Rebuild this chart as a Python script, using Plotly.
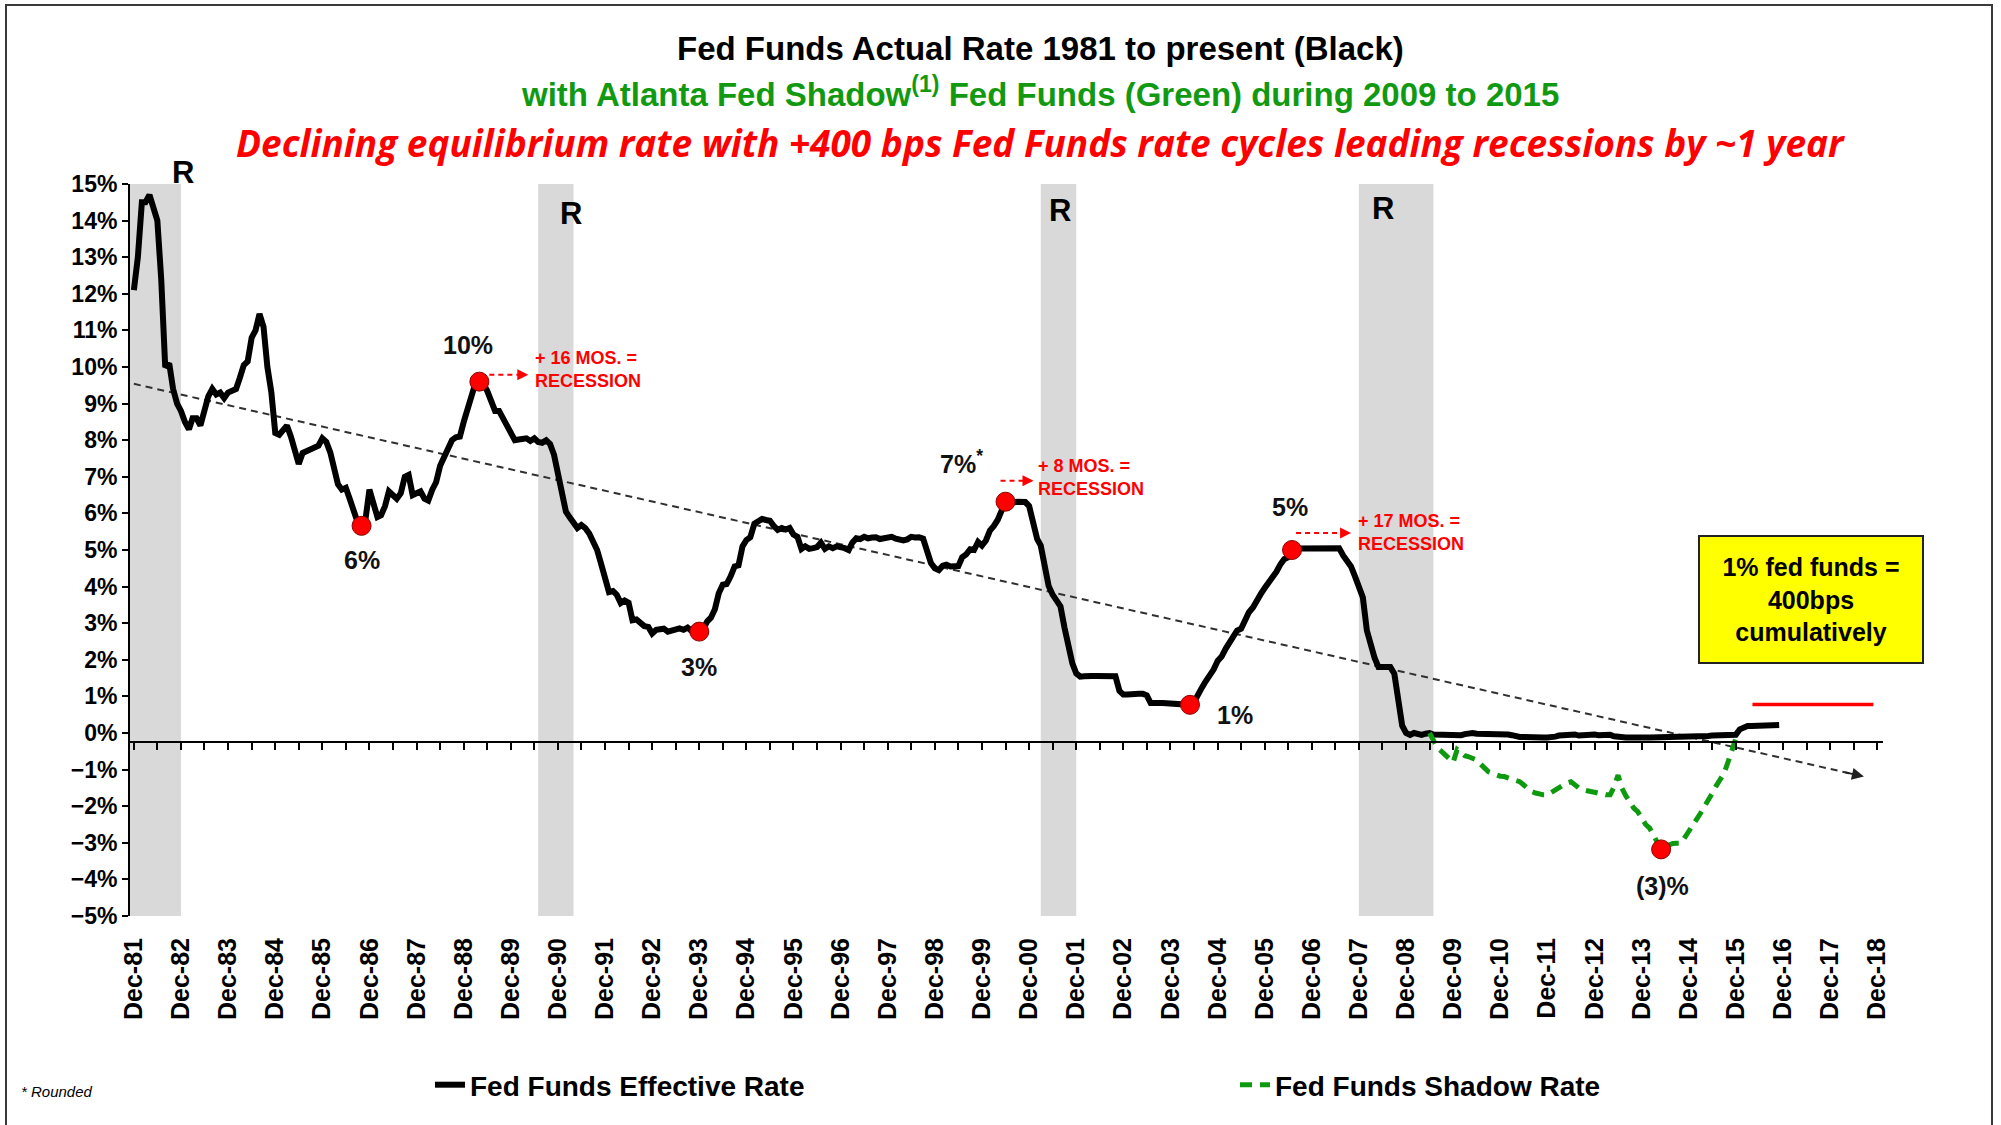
import pandas as pd
import plotly.graph_objects as go

# ---------------- data ----------------
ff_start = "1981-12-01"
ff_values = [
    12.1,
    13.0, 14.5, 14.5, 14.7, 14.3, 14.0, 12.4, 10.0, 10.1, 9.4, 9.0, 8.8,          # 1982
    8.5, 8.3, 8.6, 8.6, 8.4, 8.8, 9.2, 9.4, 9.25, 9.3, 9.15, 9.3,                 # 1983
    9.35, 9.4, 9.7, 10.05, 10.15, 10.8, 11.0, 11.45, 11.1, 10.0, 9.3, 8.2,        # 1984
    8.15, 8.3, 8.4, 8.1, 7.75, 7.35, 7.65, 7.7, 7.72, 7.8, 7.85, 8.05,            # 1985
    7.95, 7.66, 7.3, 6.8, 6.65, 6.7, 6.4, 6.0, 5.75, 5.66, 5.85, 6.65,            # 1986
    6.25, 5.9, 5.95, 6.2, 6.6, 6.5, 6.4, 6.55, 7.0, 7.05, 6.5, 6.55,              # 1987
    6.6, 6.4, 6.35, 6.65, 6.85, 7.3, 7.55, 7.8, 8.0, 8.08, 8.1, 8.5,              # 1988
    8.9, 9.15, 9.55, 9.6, 9.55, 9.35, 9.05, 8.8, 8.8, 8.6, 8.35, 8.2,             # 1989
    8.0, 8.02, 8.05, 8.05, 7.98, 8.05, 7.95, 7.93, 8.0, 7.9, 7.6, 7.1,            # 1990
    6.7, 6.05, 5.9, 5.72, 5.6, 5.68, 5.6, 5.45, 5.25, 5.0, 4.62, 4.25,            # 1991
    3.85, 3.88, 3.78, 3.55, 3.62, 3.56, 3.08, 3.1, 3.0, 2.92, 2.9, 2.72,          # 1992
    2.82, 2.83, 2.85, 2.77, 2.8, 2.84, 2.86, 2.82, 2.88, 2.79, 2.82, 2.77,        # 1993
    2.85, 3.05, 3.15, 3.38, 3.82, 4.05, 4.07, 4.28, 4.55, 4.58, 5.1, 5.27,        # 1994
    5.35, 5.72, 5.78, 5.85, 5.82, 5.8, 5.66, 5.55, 5.6, 5.56, 5.6, 5.42,          # 1995
    5.36, 5.03, 5.1, 5.03, 5.05, 5.08, 5.2, 5.03, 5.1, 5.05, 5.1, 5.09,           # 1996
    5.05, 5.0, 5.2, 5.32, 5.3, 5.36, 5.32, 5.34, 5.35, 5.3, 5.32, 5.3,            # 1997
    5.36, 5.31, 5.29, 5.26, 5.29, 5.36, 5.34, 5.35, 5.31, 4.9, 4.64, 4.5,         # 1998
    4.45, 4.57, 4.6, 4.55, 4.55, 4.56, 4.8, 4.88, 5.02, 5.0, 5.22, 5.12,          # 1999
    5.26, 5.53, 5.65, 5.82, 6.07, 6.32, 6.34, 6.3, 6.32, 6.31, 6.31, 6.2,         # 2000
    5.8, 5.3, 5.12, 4.6, 4.02, 3.78, 3.58, 3.46, 2.88, 2.3, 1.9, 1.63,            # 2001
    1.54, 1.55, 1.54, 1.56, 1.56, 1.56, 1.54, 1.55, 1.56, 1.55, 1.15, 1.05,       # 2002
    1.05, 1.07, 1.06, 1.07, 1.07, 1.03, 0.82, 0.84, 0.82, 0.82, 0.81, 0.79,       # 2003
    0.8, 0.81, 0.78, 0.78, 0.77, 0.84, 1.07, 1.24, 1.42, 1.57, 1.74, 1.97,        # 2004
    2.09, 2.3, 2.44, 2.6, 2.8, 2.85, 3.07, 3.3, 3.43, 3.58, 3.8, 3.96,            # 2005
    4.1, 4.3, 4.4, 4.6, 4.75, 4.8, 5.0, 5.04, 5.04, 5.04, 5.04, 5.04,             # 2006
    5.04, 5.05, 5.05, 5.04, 5.04, 5.04, 5.05, 4.85, 4.72, 4.55, 4.28, 4.02,       # 2007
    3.7, 2.8, 2.4, 2.05, 1.8, 1.8, 1.81, 1.8, 1.62, 0.8, 0.2, 0.0,                # 2008
    -0.05, 0.0, -0.02, -0.05, -0.02, 0.0, -0.04, -0.04, -0.05, -0.07, -0.07, -0.07,   # 2009
    -0.08, -0.06, -0.03, 0.0, 0.0, -0.02, -0.02, -0.01, -0.01, -0.01, -0.01, -0.02,   # 2010
    -0.03, -0.04, -0.06, -0.1, -0.11, -0.11, -0.12, -0.1, -0.12, -0.12, -0.12, -0.12, # 2011
    -0.12, -0.1, -0.07, -0.06, -0.04, -0.04, -0.04, -0.07, -0.06, -0.04, -0.04, -0.04,# 2012
    -0.06, -0.05, -0.06, -0.05, -0.09, -0.11, -0.11, -0.12, -0.12, -0.11, -0.12, -0.11,# 2013
    -0.12, -0.12, -0.12, -0.11, -0.11, -0.1, -0.11, -0.11, -0.11, -0.11, -0.11, -0.08, # 2014
    -0.09, -0.09, -0.09, -0.08, -0.08, -0.07, -0.07, -0.06, -0.06, -0.08, -0.08, -0.05,# 2015
    0.1, 0.17, 0.19, 0.19, 0.19, 0.2, 0.2, 0.2, 0.21, 0.21, 0.22,                 # 2016 (Jan-Nov)
]

shadow_start = "2009-06-01"
shadow_values = [
    0.0, -0.2, -0.4, -0.5, -0.6, -0.7, -0.8,                                       # 2009 Jun-Dec
    -0.45, -0.55, -0.62, -0.65, -0.68, -0.74, -0.85, -0.95, -1.06, -1.1, -1.15, -1.18,  # 2010
    -1.19, -1.22, -1.27, -1.3, -1.33, -1.42, -1.52, -1.6, -1.64, -1.67, -1.69, -1.69,   # 2011
    -1.62, -1.55, -1.51, -1.42, -1.36, -1.33, -1.42, -1.5, -1.55, -1.56, -1.6, -1.62,   # 2012
    -1.65, -1.67, -1.69, -1.69, -1.47, -1.15, -1.51, -1.72, -1.9, -2.05, -2.15, -2.35,  # 2013
    -2.5, -2.6, -2.8, -3.0, -3.18, -3.1, -3.05, -3.02, -3.01, -3.01, -2.85, -2.7,       # 2014
    -2.55, -2.38, -2.2, -2.01, -1.8, -1.65, -1.45, -1.3, -1.1, -0.8, -0.46, -0.15,      # 2015
]

# recessions (shaded)
rec_start = ["1981-11-01", "1990-07-01", "2001-03-01", "2007-12-01"]
rec_end = ["1982-12-01", "1991-04-01", "2001-12-01", "2009-07-01"]

# highlighted turning points
dot_dates = ["1986-10-01", "1989-04-01", "1993-12-01", "2000-06-01", "2004-05-01", "2006-07-01", "2014-05-01"]
dot_values = [5.66, 9.6, 2.77, 6.32, 0.77, 5.0, -3.18]
dot_labels = ["6%", "10%", "3%", "7%<sup>*</sup>", "1%", "5%", "(3)%"]

# declining equilibrium trend line
trend_dates = ["1981-12-01", "2018-08-20"]
trend_values = [9.54, -1.19]

# red target line (1% fed funds)
target_dates = ["2016-04-08", "2018-11-01"]
target_values = [0.78, 0.78]

tick_years = list(range(1981, 2019))

# ---------------- layout geometry ----------------
W, H = 2001, 1125
PL, PR, PT, PB = 130, 1883, 184, 916
XR = ["1981-11-01", "2019-01-15"]
YR = [-5, 15]
AXIS_Y = -0.24          # where the horizontal axis crosses


def px(x):
    return (x - PL) / (PR - PL)


def py(y):
    return (PB - y) / (PB - PT)


FONT = "Liberation Sans, Arial, sans-serif"
RED = "#ff0000"
GREEN = "#0e9a0e"

ff_dates = pd.date_range(ff_start, periods=len(ff_values), freq="MS")
sh_dates = pd.date_range(shadow_start, periods=len(shadow_values), freq="MS")

fig = go.Figure()

# trend line
fig.add_trace(go.Scatter(
    x=trend_dates, y=trend_values, mode="lines",
    line=dict(color="#303030", width=2, dash="7px,5px"),
    showlegend=False, hoverinfo="skip"))

# effective rate
fig.add_trace(go.Scatter(
    x=ff_dates, y=ff_values, mode="lines", name="Fed Funds Effective Rate",
    line=dict(color="black", width=6), legend="legend"))

# shadow rate
fig.add_trace(go.Scatter(
    x=sh_dates, y=shadow_values, mode="lines", name="Fed Funds Shadow Rate",
    line=dict(color=GREEN, width=5, dash="12px,8px"), legend="legend2"))

# target line on overlay axis (also makes the crossing axis render)
fig.add_trace(go.Scatter(
    x=target_dates, y=target_values, mode="lines", xaxis="x2",
    line=dict(color=RED, width=3.5), showlegend=False, hoverinfo="skip"))

# red dots
fig.add_trace(go.Scatter(
    x=dot_dates, y=dot_values, mode="markers",
    marker=dict(color=RED, size=19, line=dict(color="#8b0000", width=1)),
    showlegend=False, hoverinfo="skip"))

shapes = []
for s, e in zip(rec_start, rec_end):
    shapes.append(dict(type="rect", xref="x", yref="paper", x0=s, x1=e, y0=0, y1=1,
                       fillcolor="#d9d9d9", line=dict(width=0), layer="below"))

annotations = []

# dot labels
label_offsets = [(0, -34), (-11, 37), (0, -35), (-44, 40), (45, -10), (-2, 43), (1, -37)]
for d, v, t, (dx, dy) in zip(dot_dates, dot_values, dot_labels, label_offsets):
    annotations.append(dict(x=d, y=v, text=t, showarrow=False, xshift=dx, yshift=dy,
                            font=dict(family=FONT, size=25, color="#111111", weight="bold")))

# recession-lead callouts: (dot index, arrow y offset, arrow x0, arrow x1, text x, text y, text)
callouts = [
    (1, 7, 10, 49, 54, 12, "+ 16 MOS. =<br>RECESSION"),
    (3, 21, -5, 28, 30, 24, "+ 8 MOS. =<br>RECESSION"),
    (5, 17, 4, 59, 64, 18, "+ 17 MOS. =<br>RECESSION"),
]
for i, ay_, x0, x1, tx, ty, txt in callouts:
    d, v = dot_dates[i], dot_values[i]
    shapes.append(dict(type="line", xref="x", yref="y", xsizemode="pixel", ysizemode="pixel",
                       xanchor=d, yanchor=v, x0=x0, x1=x1 - 6, y0=ay_, y1=ay_,
                       line=dict(color=RED, width=2, dash="5px,4px")))
    annotations.append(dict(x=d, y=v, xshift=x1, yshift=ay_, text="", showarrow=True,
                            ax=-8, ay=0, arrowhead=2, arrowsize=1.1, arrowwidth=2,
                            arrowcolor=RED))
    annotations.append(dict(x=d, y=v, xshift=tx, yshift=ty, text=txt, showarrow=False,
                            xanchor="left", yanchor="middle", align="left",
                            font=dict(family=FONT, size=18, color=RED, weight="bold")))

# trend arrowhead
annotations.append(dict(x=trend_dates[-1], y=trend_values[-1], text="", showarrow=True,
                        ax=-20, ay=-4.5, arrowhead=2, arrowsize=1.2, arrowwidth=2,
                        arrowcolor="#202020"))

# R markers (recession flags at the top of the plot)
for xd, ypix in [("1982-12-13", 172), ("1991-03-12", 213), ("2001-07-25", 210), ("2008-06-08", 208)]:
    annotations.append(dict(x=xd, xref="x", yref="paper", y=py(ypix), yanchor="middle",
                            text="R", showarrow=False,
                            font=dict(family=FONT, size=31, color="black", weight="bold")))

# titles
annotations += [
    dict(xref="paper", yref="paper", x=px(1040), y=py(48), xanchor="center", yanchor="middle",
         text="Fed Funds Actual Rate 1981 to present (Black)",
         showarrow=False, font=dict(family=FONT, size=33, color="black", weight="bold")),
    dict(xref="paper", yref="paper", x=px(1040), y=py(92), xanchor="center", yanchor="middle",
         text="with Atlanta Fed Shadow<sup>(1)</sup> Fed Funds (Green) during 2009 to 2015",
         showarrow=False, font=dict(family=FONT, size=33, color="#119a11", weight="bold")),
    dict(xref="paper", yref="paper", x=px(1040), y=py(142), xanchor="center", yanchor="middle",
         text="Declining equilibrium rate with +400 bps Fed Funds rate cycles leading recessions by ~1 year",
         showarrow=False, font=dict(family="Open Sans, Lato, sans-serif", size=37, color=RED,
                                    weight="bold", style="italic")),
    # yellow box
    dict(xref="paper", yref="paper", x=px(1811), y=py(599), xanchor="center", yanchor="middle",
         text="1% fed funds =<br>400bps<br>cumulatively", showarrow=False,
         bgcolor="#ffff00", bordercolor="#222222", borderwidth=2, width=220, height=123,
         font=dict(family=FONT, size=25, color="black", weight="bold")),
    # footnote
    dict(xref="paper", yref="paper", x=px(19), y=py(1091), xanchor="left", yanchor="middle",
         text="* Rounded", showarrow=False,
         font=dict(family=FONT, size=15, color="black", style="italic")),
]

# outer frame
shapes.append(dict(type="rect", xref="paper", yref="paper", x0=px(6), x1=px(1992), y0=py(1140), y1=py(5),
                   line=dict(color="#3a3a3a", width=2), fillcolor="rgba(0,0,0,0)", layer="above"))

fig.update_layout(
    width=W, height=H,
    margin=dict(l=PL, r=W - PR, t=PT, b=H - PB),
    paper_bgcolor="white", plot_bgcolor="white",
    font=dict(family=FONT, color="black"),
    xaxis=dict(type="date", range=XR, showgrid=False, zeroline=False, showline=False,
               tickmode="array", tickvals=[f"{y}-12-01" for y in tick_years],
               tickformat="%b-%y", tickangle=-90, ticks="", ticklabelstandoff=16,
               tickfont=dict(family=FONT, size=25, color="black", weight="bold")),
    xaxis2=dict(type="date", range=XR, overlaying="x", anchor="free", position=(AXIS_Y - YR[0]) / (YR[1] - YR[0]),
                side="bottom", showgrid=False, zeroline=False, showline=True, linecolor="black", linewidth=2,
                ticks="outside", ticklen=7, tickwidth=2, tickcolor="black",
                tick0="1981-12-01", dtick="M6", showticklabels=False),
    yaxis=dict(range=YR, dtick=1, ticksuffix="%", showgrid=False, zeroline=False,
               showline=True, linecolor="black", linewidth=2, ticks="outside", ticklen=6,
               tickwidth=2, tickcolor="black",
               tickfont=dict(family=FONT, size=23, color="black", weight="bold")),
    legend=dict(x=px(430), y=py(1085), xanchor="left", yanchor="middle", orientation="h",
                bgcolor="rgba(0,0,0,0)",
                font=dict(family=FONT, size=28, color="black", weight="bold")),
    legend2=dict(x=px(1235), y=py(1085), xanchor="left", yanchor="middle", orientation="h",
                 bgcolor="rgba(0,0,0,0)",
                 font=dict(family=FONT, size=28, color="black", weight="bold")),
    shapes=shapes,
    annotations=annotations,
)

fig.write_html("out.html", config={"displayModeBar": False},
               post_script="document.body.style.margin='0px';document.body.style.overflow='hidden';")
